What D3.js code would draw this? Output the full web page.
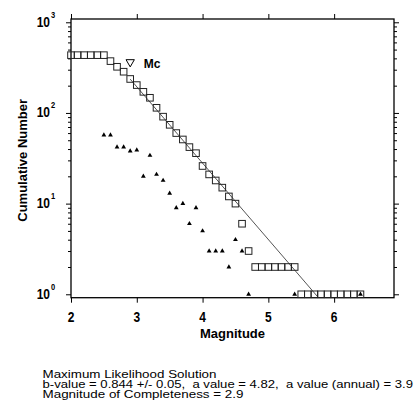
<!DOCTYPE html>
<html><head><meta charset="utf-8">
<script src="https://cdn.jsdelivr.net/npm/d3@7"></script>
<style>
html,body{margin:0;padding:0;background:#fff;}
svg{display:block;font-family:Arial,"Liberation Sans",sans-serif;}
</style></head>
<body><svg id="c" width="416" height="409"></svg>
<script>
// ---- data ----
const cumMag = [2.0,2.1,2.2,2.3,2.4,2.5,2.6,2.7,2.8,2.9,3.0,3.1,3.2,3.3,3.4,3.5,3.6,3.7,3.8,3.9,4.0,4.1,4.2,4.3,4.4,4.5,4.6,4.7,4.8,4.9,5.0,5.1,5.2,5.3,5.4,5.5,5.6,5.7,5.8,5.9,6.0,6.1,6.2,6.3,6.4];
const cumN   = [434,434,434,434,434,434,373,323,285,237,203,171,147,114,91,74,60,51,42,36,26,21,18,15,12,10,6,3,2,2,2,2,2,2,2,1,1,1,1,1,1,1,1,1,1];
const nonMag = [2.5,2.6,2.7,2.8,2.9,3.0,3.1,3.2,3.3,3.4,3.5,3.6,3.7,3.8,3.9,4.0,4.1,4.2,4.3,4.4,4.5,4.6,4.7,5.4,6.4];
const nonN   = [57,57,42,42,38,39,20,34,21,18,13,9,10,6,9,5,3,3,3,2,4,3,1,1,1];
const fitMag = [2.9, 5.76];
const fitN   = [236, 0.92];
const mcMag = [2.9];
const mcN   = [364];
const xTicks = [2,3,4,5,6];
const yMajor = [1,10,100,1000];
const yMajorExp = ["0","1","2","3"];
const infoLines = [
  "Maximum Likelihood Solution",
  "b-value = 0.844 +/- 0.05,  a value = 4.82,  a value (annual) = 3.9",
  "Magnitude of Completeness = 2.9"
];

// ---- layout ----
const L = 71, R = 394, T = 19, B = 297.7;
const svg = d3.select("#c");
const x = d3.scaleLinear().domain([2, 6.91]).range([L, R]);
const y = d3.scaleLog().domain([0.917, 1087]).range([B, T]);

const allY = y.ticks().filter(v => v >= 1 && v <= 1000);
const minorY = allY.filter(v => !yMajor.includes(v));

function styleAxis(g){
  g.select(".domain").remove();
  g.selectAll("line").attr("stroke","#000").attr("stroke-width",1);
  g.selectAll("text").remove();
}
// left
svg.append("g").attr("transform",`translate(${L},0)`)
  .call(d3.axisLeft(y).tickValues(minorY).tickSize(3).tickFormat("")).call(styleAxis);
svg.append("g").attr("transform",`translate(${L},0)`)
  .call(d3.axisLeft(y).tickValues(yMajor).tickSize(5).tickFormat("")).call(styleAxis);
// right
svg.append("g").attr("transform",`translate(${R},0)`)
  .call(d3.axisRight(y).tickValues(minorY).tickSize(3).tickFormat("")).call(styleAxis);
svg.append("g").attr("transform",`translate(${R},0)`)
  .call(d3.axisRight(y).tickValues(yMajor).tickSize(5).tickFormat("")).call(styleAxis);
// bottom / top
svg.append("g").attr("transform",`translate(0,${B})`)
  .call(d3.axisBottom(x).tickValues(xTicks).tickSize(5).tickFormat("")).call(styleAxis);
svg.append("g").attr("transform",`translate(0,${T})`)
  .call(d3.axisTop(x).tickValues(xTicks).tickSize(5).tickFormat("")).call(styleAxis);

// frame
svg.append("rect").attr("x",L).attr("y",T).attr("width",R-L).attr("height",B-T)
  .attr("fill","none").attr("stroke","#000").attr("stroke-width",1.3);

// x tick labels (stretched vertically)
svg.append("g").selectAll("text").data(xTicks).join("text")
  .attr("transform", d => `translate(${x(d)},${B+24.5}) scale(1,1.25)`)
  .attr("text-anchor","middle").attr("font-size",12).attr("font-weight","bold")
  .text(d => d);

// y tick labels 10^n
const yl = svg.append("g").selectAll("g").data(yMajor).join("g")
  .attr("transform", d => `translate(50,${y(d)})`);
yl.append("text").attr("transform","translate(0,4.4) scale(1,1.25)")
  .attr("text-anchor","end").attr("font-size",12).attr("font-weight","bold").text("10");
yl.append("text").attr("transform","translate(1,-4.6) scale(1,1.25)")
  .attr("text-anchor","start").attr("font-size",7.5).attr("font-weight","bold")
  .text((d,i) => yMajorExp[i]);

// axis titles
svg.append("text").attr("x",(L+R)/2).attr("y",337.5).attr("text-anchor","middle")
  .attr("font-size",13).attr("font-weight","bold").text("Magnitude");
svg.append("text").attr("transform",`translate(26.5,${(T+B)/2+2}) rotate(-90)`)
  .attr("text-anchor","middle").attr("font-size",13).attr("font-weight","bold")
  .text("Cumulative Number");

// fit line
svg.append("clipPath").attr("id","pc").append("rect")
  .attr("x",L).attr("y",T).attr("width",R-L).attr("height",B-T);
svg.append("path")
  .datum(fitMag.map((m,i)=>[m,fitN[i]]))
  .attr("clip-path","url(#pc)")
  .attr("d", d3.line().x(d=>x(d[0])).y(d=>y(d[1])))
  .attr("fill","none").attr("stroke","#555").attr("stroke-width",1);

// cumulative squares
const s = 6.6;
svg.append("g").selectAll("rect").data(cumMag.map((m,i)=>[m,cumN[i]])).join("rect")
  .attr("x", d => x(d[0]) - s/2).attr("y", d => y(d[1]) - s/2)
  .attr("width", s).attr("height", s)
  .attr("fill","none").attr("stroke","#222").attr("stroke-width",1);

// non-cumulative triangles
const tri = d3.symbol().type(d3.symbolTriangle).size(10);
svg.append("g").selectAll("path").data(nonMag.map((m,i)=>[m,nonN[i]])).join("path")
  .attr("transform", d => `translate(${x(d[0])},${y(d[1])})`)
  .attr("d", tri).attr("fill","#000");

// Mc marker
svg.append("g").selectAll("path").data(mcMag.map((m,i)=>[m,mcN[i]])).join("path")
  .attr("transform", d => `translate(${x(d[0])},${y(d[1])}) rotate(180)`)
  .attr("d", d3.symbol().type(d3.symbolTriangle).size(30))
  .attr("fill","none").attr("stroke","#000").attr("stroke-width",1);
svg.append("text").attr("x", x(mcMag[0]) + 13.5).attr("y", y(mcN[0]) + 5.5)
  .attr("font-size",12).attr("font-weight","bold").text("Mc");

// info text
const infoW = [174, 370.5, 201];
svg.append("g").selectAll("text").data(infoLines).join("text")
  .attr("x", 42.5).attr("y", (d,i) => 377.5 + i*10)
  .attr("font-size", 10.3).attr("xml:space","preserve").style("white-space","pre")
  .attr("textLength", (d,i)=>infoW[i]).attr("lengthAdjust","spacingAndGlyphs")
  .text(d => d);
</script>
</body></html>
